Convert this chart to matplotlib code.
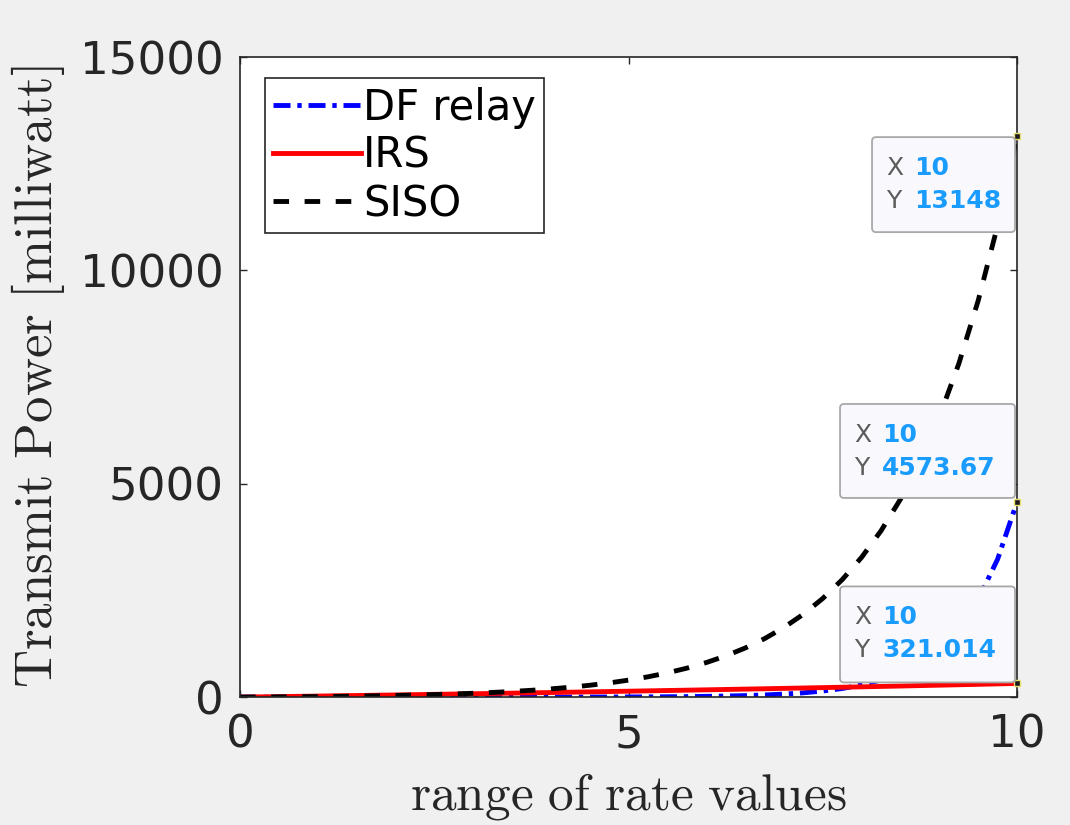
import matplotlib
matplotlib.use('Agg')
import matplotlib.pyplot as plt
from matplotlib.patches import FancyBboxPatch
from matplotlib.transforms import IdentityTransform

# rate values (x axis)
rate = [0, 0.25, 0.5, 0.75, 1, 1.25, 1.5, 1.75, 2, 2.25, 2.5, 2.75, 3, 3.25, 3.5, 3.75,
        4, 4.25, 4.5, 4.75, 5, 5.25, 5.5, 5.75, 6, 6.25, 6.5, 6.75, 7, 7.25, 7.5, 7.75,
        8, 8.25, 8.5, 8.75, 9, 9.25, 9.5, 9.75, 10]

# transmit power in milliwatt
siso = [0, 2.43, 5.32, 8.76, 12.85, 17.7, 23.5, 30.4, 38.6, 48.3, 59.8, 73.6, 90.0,
        109.4, 132.5, 160.0, 192.8, 231.7, 277.9, 332.9, 398.4, 476.2, 568.7, 678.7,
        809.6, 965.2, 1150, 1370, 1632, 1943, 2313, 2753, 3277, 3899, 4639, 5520,
        6566, 7811, 9292, 11052, 13148]
df_relay = [0, 0.0018, 0.0044, 0.008, 0.013, 0.020, 0.031, 0.045, 0.065, 0.094, 0.135,
            0.193, 0.275, 0.39, 0.55, 0.79, 1.11, 1.57, 2.23, 3.15, 4.46, 6.31, 8.92,
            12.6, 17.9, 25.3, 35.7, 50.5, 71.4, 101.0, 142.9, 202.0, 285.7, 404.1,
            571.5, 808.2, 1143, 1616, 2286, 3233, 4573.67]

rate_irs = [0, 0.5, 1, 1.5, 2, 2.5, 3, 3.5, 4, 4.5, 5, 5.5, 6, 6.5, 7, 7.5, 8, 8.5,
            9, 9.5, 10]
irs = [0, 12, 25, 38, 51, 65, 79, 93, 108, 123, 139, 155, 171, 188, 205, 223, 241,
       260, 280, 300, 321.014]

# data tips: x, y, label text
tip_x = [10, 10, 10]
tip_y = [13148, 4573.67, 321.014]
tip_txt = ['13148', '4573.67', '321.014']

plt.rcParams['mathtext.fontset'] = 'cm'
dark = '#262626'

fig = plt.figure(figsize=(10.7, 8.25), dpi=100, facecolor='#f0f0f0')
ax = fig.add_axes([0.2243, 0.155, 0.7262, 0.7758])
ax.set_facecolor('white')

ax.plot(rate, df_relay, color='blue', lw=3.5, dashes=(3.5, 1.4, 0.9, 1.4), label='DF relay')
ax.plot(rate_irs, irs, color='red', lw=3.5, label='IRS')
ax.plot(rate, siso, color='black', lw=3.5, dashes=(3.2, 3.2), label='SISO')

ax.set_xlim(0, 10)
ax.set_ylim(0, 15000)
ax.set_xticks([0, 5, 10])
ax.set_yticks([0, 5000, 10000, 15000])
ax.tick_params(direction='in', length=5, width=1, colors=dark, labelsize=32.5,
               top=True, right=True, pad=12)
for s in ax.spines.values():
    s.set_color(dark)
    s.set_linewidth(1.2)

ax.set_xlabel(r'$\mathrm{range\ of\ rate\ values}$', fontsize=37, color=dark, labelpad=10)
ax.set_ylabel(r'$\mathrm{Transmit\ Power\ [milliwatt]}$', fontsize=38, color=dark,
              labelpad=9)

leg = ax.legend(loc='upper left', bbox_to_anchor=(0.032, 0.967), borderaxespad=0,
                fontsize=30, handlelength=2.1, handletextpad=0.05, labelspacing=0.15,
                borderpad=0.2, fancybox=False, framealpha=1, edgecolor=dark)
leg.get_frame().set_linewidth(1.2)

# data tips drawn in pixel coordinates
fig.canvas.draw()
boxes = [(-145, -96, 143, 95), (-177, 4, 175, 94), (-177, 1, 175, 96)]
for x, y, t, (dx, dy, w, h) in zip(tip_x, tip_y, tip_txt, boxes):
    px, py = ax.transData.transform((x, y))
    left, bottom = px + dx, py + dy
    top = bottom + h
    box = FancyBboxPatch((left, bottom), w, h, boxstyle='round,pad=0,rounding_size=4',
                         transform=IdentityTransform(), facecolor='#f9f9fd',
                         edgecolor='#a8a8a8', lw=1.3, zorder=5)
    fig.add_artist(box)
    for lab, val, off in [('X', '10', 31), ('Y', t, 64)]:
        fig.text(left + 14, top - off, lab, transform=IdentityTransform(), fontsize=18,
                 color='#5c5c5c', va='center', ha='left', zorder=6)
        fig.text(left + 42, top - off, val, transform=IdentityTransform(), fontsize=18,
                 color='#1a9cff', fontweight='bold', va='center', ha='left', zorder=6)
    ax.plot([x], [y], marker='s', ms=5, color='#1a1a1a', mec='#e8e070', mew=1,
            clip_on=False, zorder=7)

fig.savefig('out.png', dpi=100, facecolor=fig.get_facecolor())
